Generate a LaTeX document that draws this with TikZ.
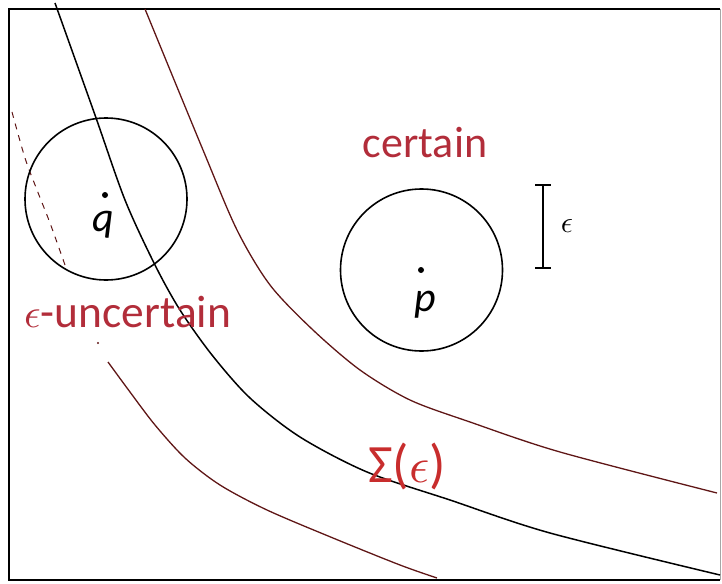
\documentclass[tikz,border=0pt]{standalone}
\usepackage{graphicx}
\usepackage{fontspec}
\setmainfont{Carlito}
\definecolor{txtred}{RGB}{178,45,58}
\definecolor{curvebrown}{RGB}{95,22,22}
\newcommand\myeps[1]{\scalebox{#1}{\normalsize$\epsilon$}}
\tikzset{
  band/.style={draw=curvebrown, line width=1.3pt},
  mid/.style={draw=black, line width=1.5pt},
  ring/.style={draw=black, line width=1.6pt},
  lbl/.style={text=txtred, inner sep=0pt, font=\fontsize{44}{44}\selectfont},
  ptlbl/.style={inner sep=0pt, font=\fontsize{42}{42}\selectfont\itshape},
  dotpt/.style={circle, fill=black, inner sep=0pt, minimum size=6pt},
}
\begin{document}
\begin{tikzpicture}[x=1pt,y=-1pt]
\useasboundingbox (0,0) rectangle (722,583);
% frame
\draw[line width=2.4pt, black] (720,9) -- (9,9) -- (9,580) -- (720,580);
\draw[line width=0.8pt, black!35] (720,9) -- (720,580);
% middle black curve
\draw[mid] plot[smooth, tension=0.5] coordinates {(55,3) (95,115) (125,200) (155,265) (180,310) (212,355) (250,398) (300,437) (367,472) (450,500) (550,533) (720,575)};
% upper band curve
\draw[band] plot[smooth, tension=0.5] coordinates {(145,9) (203,150) (237,230) (270,285) (313,330) (360,370) (410,400) (470,422) (560,452) (717,493)};
% lower band curve
\draw[band, line width=1pt, dash pattern=on 6pt off 6pt] plot[smooth, tension=0.5] coordinates {(12,112) (25,158) (37,190) (50,223) (65,265)};
\fill[curvebrown] (98,343) circle (1.2pt);
\draw[band] plot[smooth, tension=0.5] coordinates {(108,362) (130,392) (155,425) (185,458) (220,485) (267,510) (333,538) (400,565) (437,578)};
% circles
\node[dotpt] (qc) at (105,195) {};
\draw[ring] (106,199) circle (81);
\node[dotpt] (pc) at (421,270) {};
\draw[ring] (421.5,270) circle (81);
\node[ptlbl] (q) at (103,225) {q};
\node[ptlbl] (p) at (425,305) {p};
% epsilon bar
\coordinate (et) at (543,185);
\coordinate (eb) at (543,268);
\draw[line width=1.8pt] (et) -- (eb);
\draw[line width=1.6pt] ([xshift=-8pt]et) -- ([xshift=8pt]et);
\draw[line width=1.6pt] ([xshift=-8pt]eb) -- ([xshift=8pt]eb);
\node[inner sep=0pt] (eps) at (567,226) {\myeps{3}};
% labels
\node[lbl, anchor=base] (certain) at (425,157) {certain};
\node[lbl, anchor=base west, font=\fontsize{45.5}{45.5}\selectfont] (unc) at (24,327) {\myeps{4.1}-uncertain};
\node[lbl, anchor=base west, font=\fontsize{54}{54}\selectfont, text={rgb,255:red,200;green,45;blue,45}] (sig) at (368,482) {Σ(\myeps{5})};
\end{tikzpicture}
\end{document}
